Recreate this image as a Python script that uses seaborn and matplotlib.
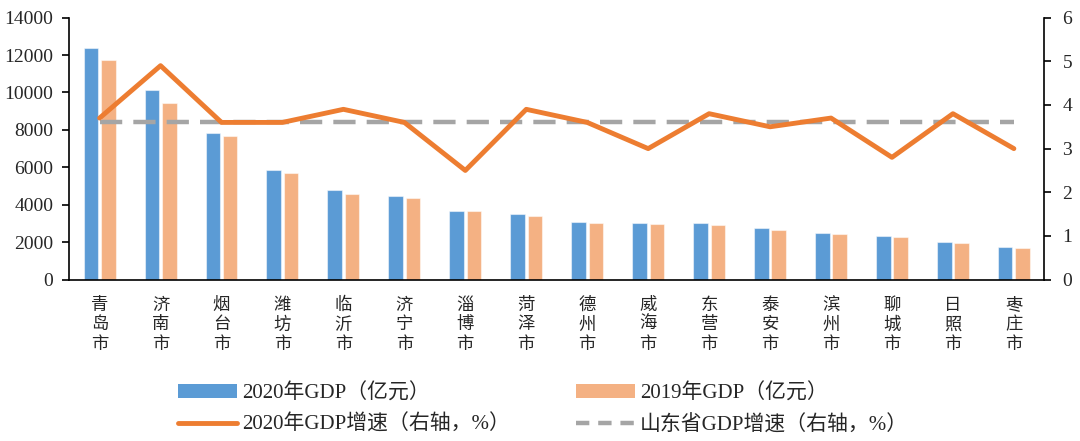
import numpy as np
import pandas as pd
import matplotlib
matplotlib.use("Agg")
import matplotlib.pyplot as plt
from matplotlib.lines import Line2D
from matplotlib.patches import Patch
import seaborn as sns

cities = ["青岛市", "济南市", "烟台市", "潍坊市", "临沂市", "济宁市", "淄博市", "菏泽市",
          "德州市", "威海市", "东营市", "泰安市", "滨州市", "聊城市", "日照市", "枣庄市"]
gdp_2020 = [12400, 10141, 7816, 5872, 4805, 4494, 3673, 3483, 3079, 3017, 3000, 2767, 2508, 2316, 2006, 1733]
gdp_2019 = [11741, 9443, 7653, 5689, 4600, 4370, 3642, 3410, 3022, 2964, 2916, 2663, 2457, 2259, 1949, 1702]
growth_2020 = [3.7, 4.9, 3.6, 3.6, 3.9, 3.6, 2.5, 3.9, 3.6, 3.0, 3.8, 3.5, 3.7, 2.8, 3.8, 3.0]
province_growth = 3.6

label_2020 = "2020年GDP（亿元）"
label_2019 = "2019年GDP（亿元）"
label_growth = "2020年GDP增速（右轴，%）"
label_prov = "山东省GDP增速（右轴，%）"

sns.set_style("white")
plt.rcParams['font.family'] = ['Liberation Serif', 'Noto Sans CJK SC', 'DejaVu Sans']

c_blue = "#5B9BD5"
c_peach = "#F4B183"
c_orange = "#ED7D31"
c_gray = "#A5A5A5"

df = pd.DataFrame({
    "city": cities * 2,
    "gdp": gdp_2020 + gdp_2019,
    "year": [label_2020] * len(cities) + [label_2019] * len(cities),
})

fig = plt.figure(figsize=(10.8, 4.41), dpi=100)
ax = fig.add_axes([0.064, 0.366, 0.903, 0.594])

sns.barplot(data=df, x="city", y="gdp", hue="year", order=cities,
            hue_order=[label_2020, label_2019], palette=[c_blue, c_peach],
            width=0.57, gap=0.16, ax=ax, legend=False, saturation=1, errorbar=None)
for p in ax.patches:
    p.set_edgecolor((1, 1, 1, 0.5))
    p.set_linewidth(0.8)

n = len(cities)
xs = np.arange(n)
ax.set_xlim(-0.5, n - 0.5)
ax.set_ylim(0, 14000)
ax.set_yticks(np.arange(0, 14001, 2000))
ax.set_xlabel("")
ax.set_ylabel("")

ax.set_xticks(xs)
ax.set_xticklabels(["\n".join(c) for c in cities], fontsize=12.5, linespacing=1.3)
ax.set_xticks(np.arange(-0.5, n, 1), minor=True)
ax.tick_params(axis="x", which="major", length=0, pad=13)
ax.tick_params(axis="x", which="minor", length=5, width=1.2, direction="out", color="black")
ax.tick_params(axis="y", length=5, width=1.2, direction="out", color="black", labelsize=14, pad=6.5)

for side in ["top", "right"]:
    ax.spines[side].set_visible(False)
for side in ["left", "bottom"]:
    ax.spines[side].set_color("black")
    ax.spines[side].set_linewidth(1.2)

ax2 = ax.twinx()
sns.lineplot(x=xs, y=[province_growth] * n, ax=ax2, color=c_gray, lw=3.2,
             linestyle=(0, (5, 2.5)), legend=False)
sns.lineplot(x=xs, y=growth_2020, ax=ax2, color=c_orange, lw=3.5, legend=False)
ax2.set_ylim(0, 6)
ax2.set_yticks(np.arange(0, 7, 1))
ax2.set_xlim(-0.5, n - 0.5)
ax2.set_ylabel("")
ax2.tick_params(axis="y", length=5, width=1.2, direction="out", color="black", labelsize=14, pad=8)
for side in ["top", "left", "bottom"]:
    ax2.spines[side].set_visible(False)
ax2.spines["right"].set_color("black")
ax2.spines["right"].set_linewidth(1.2)

handles = [
    Patch(facecolor=c_blue, edgecolor="none"),
    Line2D([0], [0], color=c_orange, lw=3.5),
    Patch(facecolor=c_peach, edgecolor="none"),
    Line2D([0], [0], color=c_gray, lw=3.2, linestyle=(0, (3, 2))),
]
labels = [label_2020, label_growth, label_2019, label_prov]
fig.legend(handles, labels, loc="center", bbox_to_anchor=(0.503, 0.072), ncol=2,
           frameon=False, fontsize=15, handlelength=2.8, handleheight=0.65,
           columnspacing=3.2, labelspacing=0.55, handletextpad=0.25)

fig.savefig("out.png", dpi=100)
